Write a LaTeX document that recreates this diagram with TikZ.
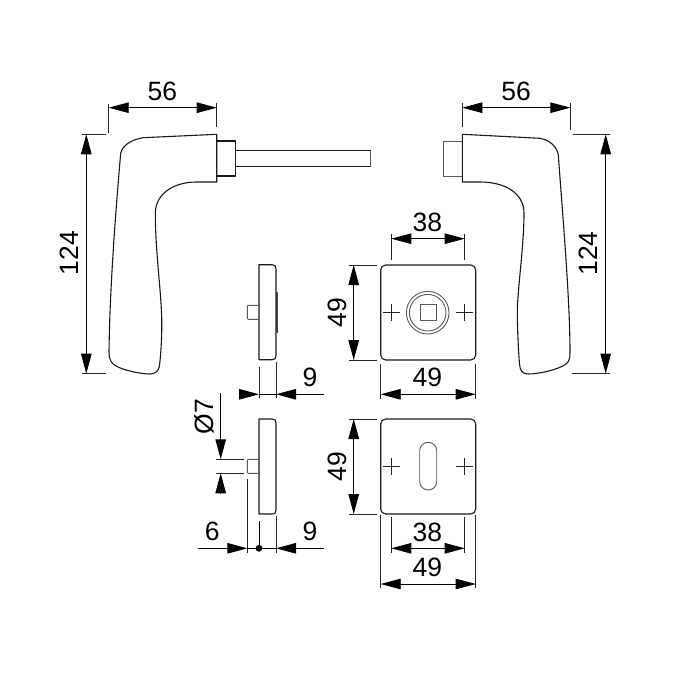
\documentclass[tikz,border=0pt]{standalone}
\usepackage{fontspec}
\setmainfont{Liberation Sans}
\usetikzlibrary{arrows.meta}
\tikzset{
  part/.style={line width=1.1pt,draw=black!90,line join=round},
  thin part/.style={line width=0.9pt,draw=black!65},
  ext/.style={line width=0.8pt,draw=black!85},
  dim/.style={line width=0.9pt,draw=black,{Triangle[length=20pt,width=10.5pt]}-{Triangle[length=20pt,width=10.5pt]}},
  tipr/.style={line width=0.9pt,draw=black,-{Triangle[length=20pt,width=10.5pt]}},
  val/.style={font=\fontsize{26.5}{26.5}\selectfont,inner sep=0pt,text=black},
  cross/.style={line width=0.7pt,draw=black!85}
}
\begin{document}
\begin{tikzpicture}[x=1pt,y=-1pt]
\useasboundingbox (0,0) rectangle (700,700);
\fill[white] (0,0) rectangle (700,700);
% left handle
\draw[part] (216.7,134.3) -- (143.3,137.7) .. controls (131,139.5) and (122,146) .. (120.7,153.3)
  .. controls (114,230) and (109.5,300) .. (109,353)
  .. controls (109,360) and (112,364) .. (116,366)
  .. controls (125,371) and (142,374) .. (150,374)
  .. controls (155,374) and (158.5,371) .. (159.3,366.7)
  .. controls (161.5,350) and (162,330) .. (161.7,318)
  .. controls (161,290) and (155.3,250) .. (155.3,213.3)
  .. controls (155.3,195) and (172,182) .. (196.7,182) -- (216.7,182) -- cycle;
\draw[part] (216.7,141) -- (235.7,141) -- (235.7,176) -- (216.7,176);
\draw[part] (235.7,150.3) -- (370.7,150.3);
\draw[part] (235.7,166.3) -- (370.7,166.3);
\draw[thin part] (370.7,150.3) -- (370.7,166.3);
\draw[part] (235.7,150.3) -- (235.7,166.3);
% right handle
\draw[part] (462.3,134.3) -- (540,138.3) .. controls (550,140) and (557,147) .. (558.3,155)
  .. controls (563,220) and (570,300) .. (570,353.3)
  .. controls (570,358) and (569,362) .. (566,364)
  .. controls (558,370) and (538,374) .. (528.3,374)
  .. controls (522,374) and (520,370) .. (519.5,364)
  .. controls (518,345) and (517.3,325) .. (517.3,310)
  .. controls (518,285) and (524,245) .. (524,213.3)
  .. controls (524,193) and (505,182) .. (480,182) -- (462.3,182) -- cycle;
\draw[thin part] (462.3,141) -- (443.3,141) -- (443.3,176) -- (462.3,176);
% upper side view
\draw[part] (259,264.7) -- (272,264.7) .. controls (275,264.7) and (276,266) .. (276,269)
  -- (276,355.5) .. controls (276,358.5) and (275,359.7) .. (272,359.7) -- (259,359.7) -- cycle;
\draw[line width=1.4pt,draw=black!75] (277,291.7) -- (277,332.7);
\draw[thin part,rounded corners=1pt] (259,305.3) -- (247.3,305.3) -- (247.3,319.3) -- (259,319.3);
% lower side view
\draw[part] (259,419) -- (272,419) .. controls (275,419) and (276,420.3) .. (276,423)
  -- (276,510) .. controls (276,513) and (275,514) .. (272,514) -- (259,514) -- cycle;
\draw[thin part,rounded corners=1pt] (259,459.3) -- (247.3,459.3) -- (247.3,473.3) -- (259,473.3);
% upper plate
\draw[part,rounded corners=5pt] (380.7,265) rectangle (475.7,360);
\draw[cross] (383,312.7) -- (400,312.7) (391.5,304) -- (391.5,321.3);
\draw[cross] (456,312.7) -- (473,312.7) (464.5,304) -- (464.5,321.3);
\draw[thin part] (427.7,312.7) circle[radius=21.3];
\draw[thin part] (427.7,312.7) circle[radius=18.3];
\draw[thin part] (420,304.3) rectangle (436,320.7);
% lower plate
\draw[part,rounded corners=5pt] (380.7,419) rectangle (475.7,514);
\draw[cross] (383,466.7) -- (400,466.7) (391.5,458) -- (391.5,475.3);
\draw[cross] (456,466.7) -- (473,466.7) (464.5,458) -- (464.5,475.3);
\draw[thin part,rounded corners=8.4pt] (419.7,442.3) rectangle (436.7,490);
% extension lines
\draw[ext] (108.7,104) -- (108.7,133) (216.7,103) -- (216.7,127);
\draw[ext] (82,134.3) -- (105.7,134.3) (82,373.7) -- (106,373.7);
\draw[ext] (462.3,103) -- (462.3,127) (570.3,103) -- (570.3,130);
\draw[ext] (573,134.3) -- (610,134.3) (572,373.7) -- (610,373.7);
\draw[ext] (391.3,234) -- (391.3,260) (464.7,234) -- (464.7,260);
\draw[ext] (349,265) -- (376.7,265) (349,360) -- (376.7,360);
\draw[ext] (380.7,364) -- (380.7,399) (475.7,364) -- (475.7,399);
\draw[ext] (259,367.3) -- (259,398) (276,362.3) -- (276,398);
\draw[ext] (349,419) -- (376.7,419) (349,514) -- (376.7,514);
\draw[ext] (380.7,515) -- (380.7,588) (475.7,515) -- (475.7,588);
\draw[ext] (391.3,516.7) -- (391.3,552.7) (464.7,516.7) -- (464.7,552.7);
\draw[ext] (216,459.3) -- (244.3,459.3) (216,473.3) -- (244.3,473.3);
\draw[ext] (247.3,478.7) -- (247.3,552.7) (276,515.7) -- (276,552.7);
\draw[line width=0.9pt,draw=black] (259,521.3) -- (259,548.3);
% dimension lines
\draw[dim] (108.7,107.7) -- (216.7,107.7);
\draw[dim] (86.3,134.3) -- (86.3,373.7);
\draw[dim] (462.3,107.7) -- (570.3,107.7);
\draw[dim] (605.7,134.3) -- (605.7,373.7);
\draw[dim] (391.3,238.7) -- (464.7,238.7);
\draw[dim] (353.7,265) -- (353.7,360);
\draw[dim] (380.7,394.3) -- (475.7,394.3);
\draw[dim] (353.7,419) -- (353.7,514);
\draw[dim] (391.3,548.3) -- (464.7,548.3);
\draw[dim] (380.7,584) -- (475.7,584);
\draw[tipr] (220.7,393.3) -- (220.7,459.3);
\draw[tipr] (220.7,493) -- (220.7,473.3);
\draw[tipr] (239.3,394.3) -- (259,394.3);
\draw[tipr] (324,394.3) -- (276,394.3);
\draw[line width=0.9pt,draw=black] (259,394.3) -- (276,394.3);
\draw[tipr] (198.3,548.3) -- (247.3,548.3);
\draw[tipr] (324,548.3) -- (276,548.3);
\draw[line width=0.9pt,draw=black] (247.3,548.3) -- (276,548.3);
\fill (259,548.3) circle[radius=3.4];
% values
\node[val] (a1) at (162.3,91.3) {56};
\node[val] (a2) at (516,91.3) {56};
\node[val,rotate=90] (a3) at (69,253) {124};
\node[val,rotate=90] (a4) at (588.5,253.5) {124};
\node[val] (a5) at (427.3,222.3) {38};
\node[val,rotate=90] (a6) at (337.3,312.7) {49};
\node[val] (a7) at (427.3,377.3) {49};
\node[val,rotate=90] (a8) at (337.3,466.7) {49};
\node[val] (a9) at (427.3,532) {38};
\node[val] (a10) at (427.3,567.7) {49};
\node[val] (a11) at (310,377.7) {9};
\node[val] (a12) at (310,531.7) {9};
\node[val] (a13) at (212.3,531.7) {6};
\node[val,rotate=90] (a14) at (204.3,416.7) {Ø7};
\end{tikzpicture}
\end{document}
